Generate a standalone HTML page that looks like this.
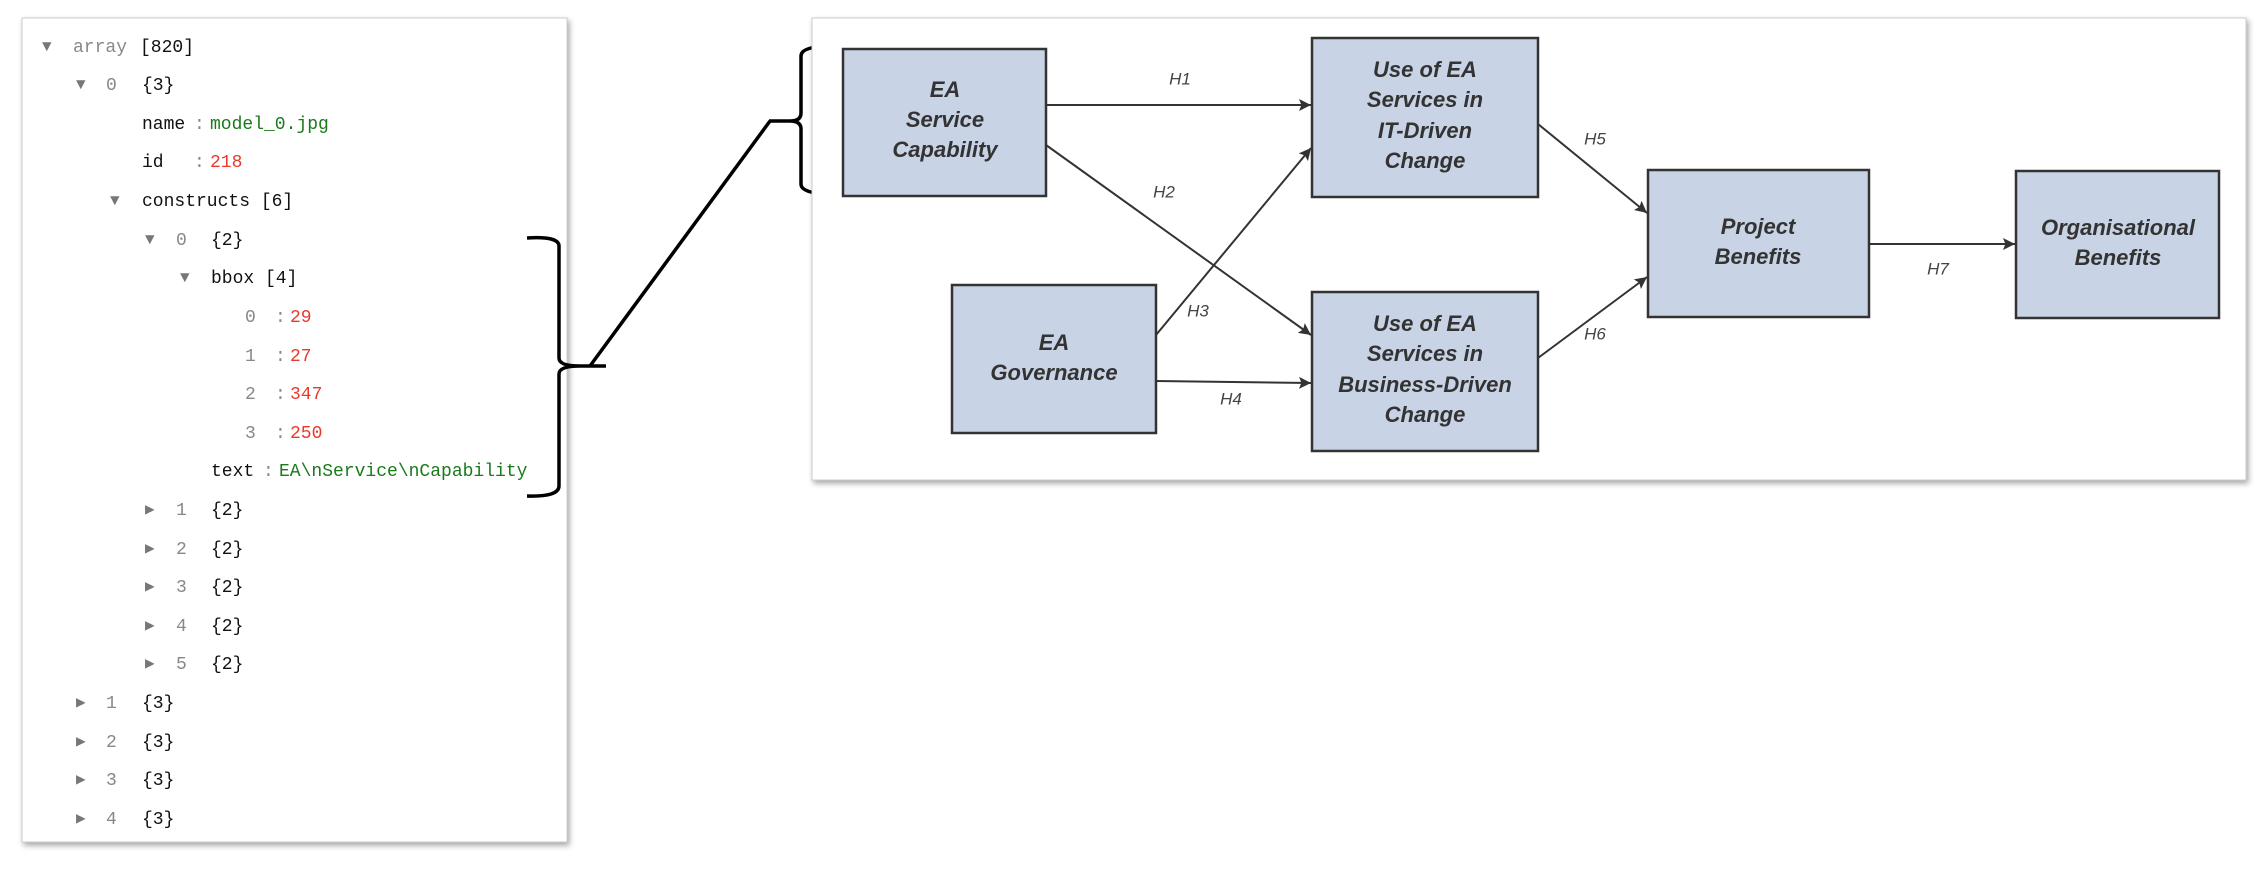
<!DOCTYPE html>
<html><head><meta charset="utf-8"><style>
html,body{margin:0;padding:0;background:#fff;width:2262px;height:871px;overflow:hidden}
svg{display:block}
.m{font-family:"Liberation Mono",monospace;font-size:18px}
.k{fill:#111}.g{fill:#888}.gr{fill:#1a7a1a}.r{fill:#e8392b}
.t{fill:#777;font-size:16px}
.b{font-family:"Liberation Sans",sans-serif;font-weight:bold;font-style:italic;font-size:22px;fill:#333;text-anchor:middle}
.h{font-family:"Liberation Sans",sans-serif;font-style:italic;font-size:17px;fill:#444;text-anchor:middle}
</style></head><body>
<svg width="2262" height="871" viewBox="0 0 2262 871">
<defs>
<filter id="sh" x="-5%" y="-5%" width="110%" height="110%"><feDropShadow dx="2" dy="3" stdDeviation="3" flood-color="#000" flood-opacity="0.35"/></filter>
<marker id="ar" viewBox="0 0 10 10" refX="10" refY="5" markerWidth="13" markerHeight="12" orient="auto" markerUnits="userSpaceOnUse"><path d="M0,0 L10,5 L0,10 L2,5 z" fill="#333"/></marker>
</defs>
<rect x="22" y="18" width="545" height="824" fill="#fff" stroke="#ccc" stroke-width="1" filter="url(#sh)"/>
<g class="m" dominant-baseline="middle">
<text x="42" y="47" class="t">▼</text><text x="73" y="47" class="g">array</text><text x="140" y="47" class="k">[820]</text>
<text x="76" y="85" class="t">▼</text><text x="106" y="85" class="g">0</text><text x="142" y="85" class="k">{3}</text>
<text x="142" y="124" class="k">name</text><text x="194" y="124" class="g">:</text><text x="210" y="124" class="gr">model_0.jpg</text>
<text x="142" y="162" class="k">id</text><text x="194" y="162" class="g">:</text><text x="210" y="162" class="r">218</text>
<text x="110" y="201" class="t">▼</text><text x="142" y="201" class="k">constructs [6]</text>
<text x="145" y="240" class="t">▼</text><text x="176" y="240" class="g">0</text><text x="211" y="240" class="k">{2}</text>
<text x="180" y="278" class="t">▼</text><text x="211" y="278" class="k">bbox [4]</text>
<text x="245" y="317" class="g">0</text><text x="275" y="317" class="g">:</text><text x="290" y="317" class="r">29</text>
<text x="245" y="356" class="g">1</text><text x="275" y="356" class="g">:</text><text x="290" y="356" class="r">27</text>
<text x="245" y="394" class="g">2</text><text x="275" y="394" class="g">:</text><text x="290" y="394" class="r">347</text>
<text x="245" y="433" class="g">3</text><text x="275" y="433" class="g">:</text><text x="290" y="433" class="r">250</text>
<text x="211" y="471" class="k">text</text><text x="263" y="471" class="g">:</text><text x="279" y="471" class="gr">EA\nService\nCapability</text>
<text x="145" y="510" class="t">▶</text><text x="176" y="510" class="g">1</text><text x="211" y="510" class="k">{2}</text>
<text x="145" y="549" class="t">▶</text><text x="176" y="549" class="g">2</text><text x="211" y="549" class="k">{2}</text>
<text x="145" y="587" class="t">▶</text><text x="176" y="587" class="g">3</text><text x="211" y="587" class="k">{2}</text>
<text x="145" y="626" class="t">▶</text><text x="176" y="626" class="g">4</text><text x="211" y="626" class="k">{2}</text>
<text x="145" y="664" class="t">▶</text><text x="176" y="664" class="g">5</text><text x="211" y="664" class="k">{2}</text>
<text x="76" y="703" class="t">▶</text><text x="106" y="703" class="g">1</text><text x="142" y="703" class="k">{3}</text>
<text x="76" y="742" class="t">▶</text><text x="106" y="742" class="g">2</text><text x="142" y="742" class="k">{3}</text>
<text x="76" y="780" class="t">▶</text><text x="106" y="780" class="g">3</text><text x="142" y="780" class="k">{3}</text>
<text x="76" y="819" class="t">▶</text><text x="106" y="819" class="g">4</text><text x="142" y="819" class="k">{3}</text>
</g>
<path d="M527,238 Q559,236 559,246 L559,358 Q559,366 580,366 L606,366 M580,366 Q559,366 559,374 L559,486 Q559,497 527,496" fill="none" stroke="#000" stroke-width="3.5"/>
<line x1="590" y1="366" x2="770" y2="121" stroke="#000" stroke-width="3.5"/>
<path d="M833,46 Q801,46 801,56 L801,113 Q801,121 790,121 L769,121 M790,121 Q801,121 801,129 L801,184 Q801,194 833,194" fill="none" stroke="#000" stroke-width="3.5"/>
<rect x="812" y="18" width="1434" height="462" fill="#fff" stroke="#ccc" stroke-width="1" filter="url(#sh)"/>
<g fill="#c8d3e5" stroke="#333" stroke-width="2.5">
<rect x="843" y="49" width="203" height="147"/>
<rect x="1312" y="38" width="226" height="159"/>
<rect x="952" y="285" width="204" height="148"/>
<rect x="1312" y="292" width="226" height="159"/>
<rect x="1648" y="170" width="221" height="147"/>
<rect x="2016" y="171" width="203" height="147"/>
</g>
<g stroke="#333" stroke-width="2" marker-end="url(#ar)">
<line x1="1046" y1="105" x2="1311" y2="105"/>
<line x1="1046" y1="145" x2="1311" y2="335"/>
<line x1="1156" y1="335" x2="1311" y2="148"/>
<line x1="1156" y1="381" x2="1311" y2="383"/>
<line x1="1538" y1="124" x2="1647" y2="213"/>
<line x1="1538" y1="358" x2="1647" y2="277"/>
<line x1="1869" y1="244" x2="2015" y2="244"/>
</g>
<g class="b" dominant-baseline="middle">
<text x="945" y="91">EA</text><text x="945" y="121">Service</text><text x="945" y="151">Capability</text>
<text x="1425" y="71">Use of EA</text><text x="1425" y="101">Services in</text><text x="1425" y="132">IT-Driven</text><text x="1425" y="162">Change</text>
<text x="1054" y="344">EA</text><text x="1054" y="374">Governance</text>
<text x="1425" y="325">Use of EA</text><text x="1425" y="355">Services in</text><text x="1425" y="386">Business-Driven</text><text x="1425" y="416">Change</text>
<text x="1758" y="228">Project</text><text x="1758" y="258">Benefits</text>
<text x="2118" y="229">Organisational</text><text x="2118" y="259">Benefits</text>
</g>
<g class="h" dominant-baseline="middle">
<text x="1180" y="80">H1</text><text x="1164" y="193">H2</text><text x="1198" y="312">H3</text><text x="1231" y="400">H4</text>
<text x="1595" y="140">H5</text><text x="1595" y="335">H6</text><text x="1938" y="270">H7</text>
</g>
</svg>
</body></html>
